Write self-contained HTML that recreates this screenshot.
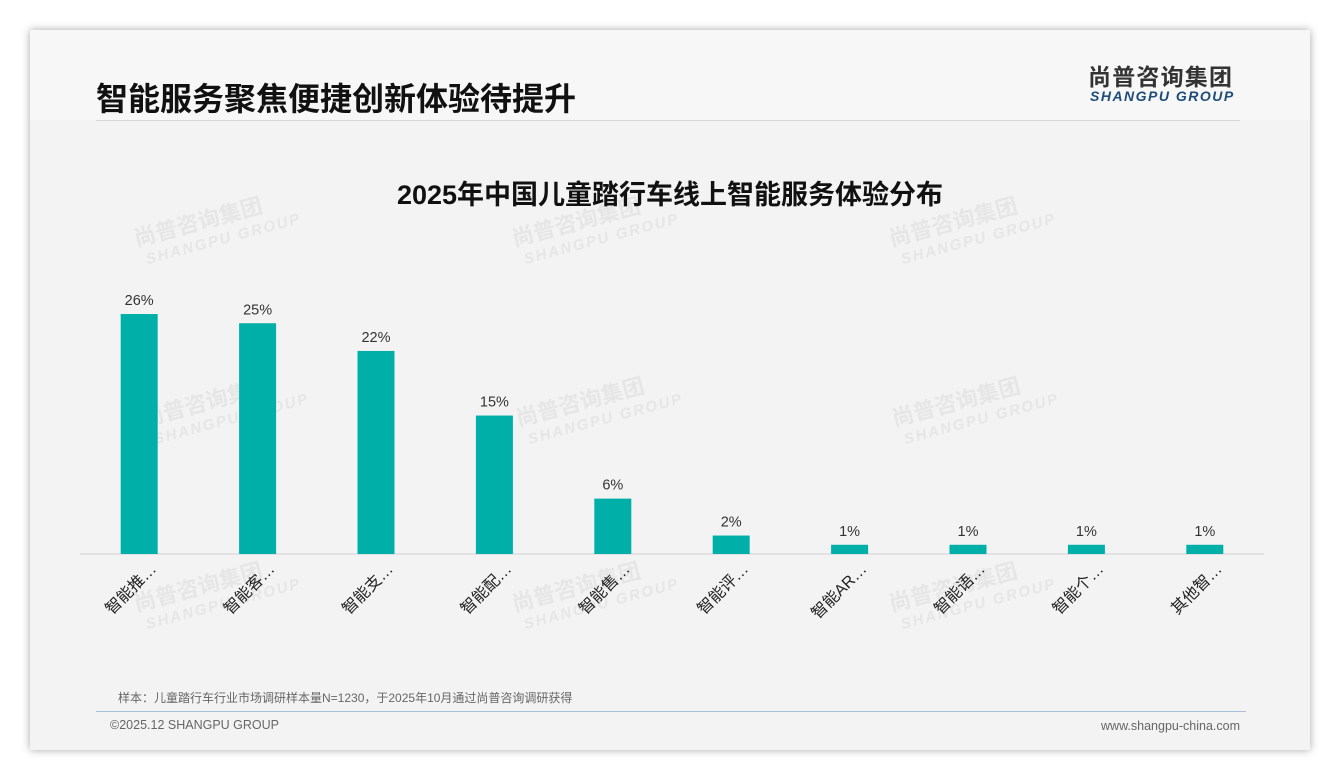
<!DOCTYPE html>
<html><head><meta charset="utf-8"><style>
body{margin:0;width:1340px;height:780px;background:#fff;font-family:"Liberation Sans","Noto Sans CJK SC",sans-serif;overflow:hidden}
.card{position:absolute;left:30px;top:30px;width:1280px;height:720px;background:#f3f3f3;box-shadow:0 0 8px rgba(0,0,0,.35)}
.hdr{position:absolute;left:0;top:0;width:1280px;height:90px;background:#f7f7f7}
</style></head><body>
<div class="card">
<div class="hdr"></div>
<div style="position:absolute;left:66px;top:44px;font-size:32px;font-weight:bold;color:#111;font-family:'Liberation Sans','Noto Sans CJK SC',sans-serif">智能服务聚焦便捷创新体验待提升</div>
<div style="position:absolute;left:1058px;top:34px;font-size:23px;line-height:26px;font-weight:bold;color:#333;letter-spacing:1.2px">尚普咨询集团</div>
<div style="position:absolute;left:1060px;top:58px;font-size:14px;line-height:16px;font-weight:bold;font-style:italic;color:#1e4c7a;letter-spacing:1.5px">SHANGPU GROUP</div>
<div style="position:absolute;left:66px;top:90px;width:1144px;height:1px;background:#d8d8d8"></div>
<div style="position:absolute;left:66px;top:681px;width:1150px;height:1px;background:#a8c0d8"></div>
<div style="position:absolute;left:88px;top:659px;font-size:12px;color:#666">样本：儿童踏行车行业市场调研样本量N=1230，于2025年10月通过尚普咨询调研获得</div>
<div style="position:absolute;left:80px;top:688px;font-size:12.5px;color:#666">©2025.12 SHANGPU GROUP</div>
<div style="position:absolute;right:70px;top:689px;font-size:12.5px;color:#666">www.shangpu-china.com</div>
</div>
<svg id="chart" width="1340" height="780" style="position:absolute;left:0;top:0">
<g id="wm" fill="#e6e6e6" font-weight="bold"></g>
<text x="670" y="204" text-anchor="middle" font-size="27" font-weight="bold" fill="#111">2025年中国儿童踏行车线上智能服务体验分布</text>
<line x1="80" y1="554" x2="1264" y2="554" stroke="#d0d0d0"/>
<g id="bars"></g>
</svg>
<script>
const categories=["智能推…","智能客…","智能支…","智能配…","智能售…","智能评…","智能AR…","智能语…","智能个…","其他智…"];
const values=[26,25,22,15,6,2,1,1,1,1];
const valueLabels=["26%","25%","22%","15%","6%","2%","1%","1%","1%","1%"];
const ns="http://www.w3.org/2000/svg";
const x0=80,x1=1264,base=554,pxPer=9.23,bw=37;
const step=(x1-x0)/categories.length;
const xc=i=>x0+step*(i+0.5);
const y=v=>base-v*pxPer;
const g=document.getElementById('bars');
categories.forEach((c,i)=>{
 const r=document.createElementNS(ns,'rect');
 
 
 r.setAttribute('x',xc(i)-bw/2);r.setAttribute('y',y(values[i]));r.setAttribute('width',bw);r.setAttribute('height',base-y(values[i]));r.setAttribute('fill','#00b0a8');g.appendChild(r);
 const t=document.createElementNS(ns,'text');
 
 
 t.setAttribute('x',xc(i));t.setAttribute('y',y(values[i])-9);t.setAttribute('text-anchor','middle');t.setAttribute('font-size','14.5');t.setAttribute('fill','#333');t.textContent=valueLabels[i];g.appendChild(t);
 const l=document.createElementNS(ns,'text');
 
 
 const lx=xc(i)+18,ly=570;
 l.setAttribute('x',lx);l.setAttribute('y',ly);l.setAttribute('text-anchor','end');l.setAttribute('font-size','16');l.setAttribute('fill','#222');l.setAttribute('transform','rotate(-45 '+lx+' '+ly+')');l.textContent=c;g.appendChild(l);
});
const wm=document.getElementById('wm');
[[140,260],[518,260],[895,260],[148,440],[522,440],[898,440],[140,625],[518,625],[895,625]].forEach((p,k)=>{
 const a=document.createElementNS(ns,'text');
 
 
 a.setAttribute('x',p[0]);a.setAttribute('y',p[1]-14);a.setAttribute('font-size','22');a.setAttribute('transform','rotate(-15 '+p[0]+' '+p[1]+')');a.textContent='尚普咨询集团';wm.appendChild(a);
 const b=document.createElementNS(ns,'text');
 
 
 b.setAttribute('x',p[0]+6);b.setAttribute('y',p[1]+6);b.setAttribute('font-size','15');b.setAttribute('font-style','italic');b.setAttribute('letter-spacing','2');b.setAttribute('transform','rotate(-15 '+p[0]+' '+p[1]+')');b.textContent='SHANGPU GROUP';wm.appendChild(b);
});
</script>
</body></html>
